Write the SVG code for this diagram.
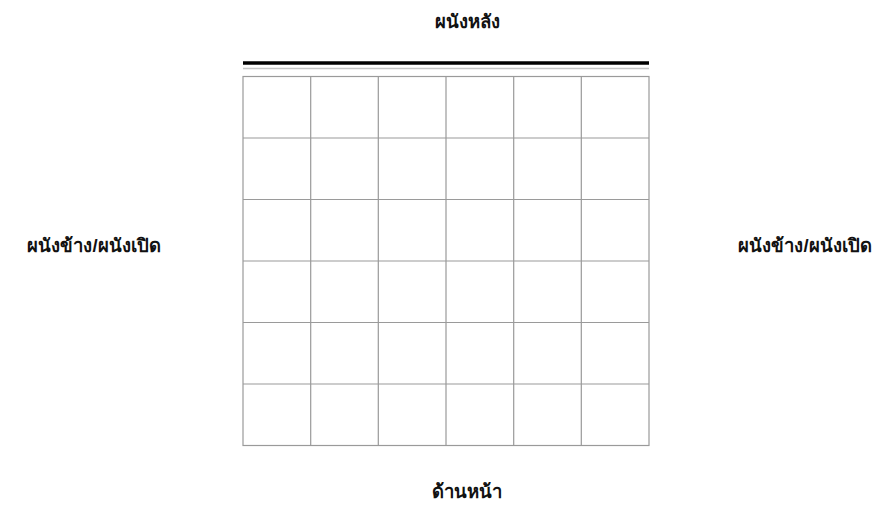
<svg xmlns="http://www.w3.org/2000/svg" width="889" height="517" viewBox="0 0 889 517">
<style>
.lbl{font-family:"Liberation Sans","Noto Sans",sans-serif;font-size:18.5px;font-weight:bold;fill:#111;text-anchor:middle}
.g{stroke:#9a9a9a;stroke-width:1.2;fill:none}
</style>
<rect width="889" height="517" fill="#fff"/>
<g id="wall">
<line x1="243" y1="63" x2="649" y2="63" stroke="#000" stroke-width="3.5"/>
<line x1="243" y1="68.5" x2="649" y2="68.5" stroke="#c4c4c4" stroke-width="1.5"/>
</g>
<g id="grid" class="g">
<rect x="243" y="76.5" width="406" height="369"/>
<path d="M310.7 76.5V445.5M378.3 76.5V445.5M446 76.5V445.5M513.7 76.5V445.5M581.3 76.5V445.5M243 138H649M243 199.5H649M243 261H649M243 322.5H649M243 384H649"/>
</g>
<g id="labels">
<text class="lbl" x="467" y="28">ผนังหลัง</text>
<text class="lbl" x="94" y="252">ผนังข้าง/ผนังเปิด</text>
<text class="lbl" x="805" y="252">ผนังข้าง/ผนังเปิด</text>
<text class="lbl" x="467" y="498">ด้านหน้า</text>
</g>
</svg>
